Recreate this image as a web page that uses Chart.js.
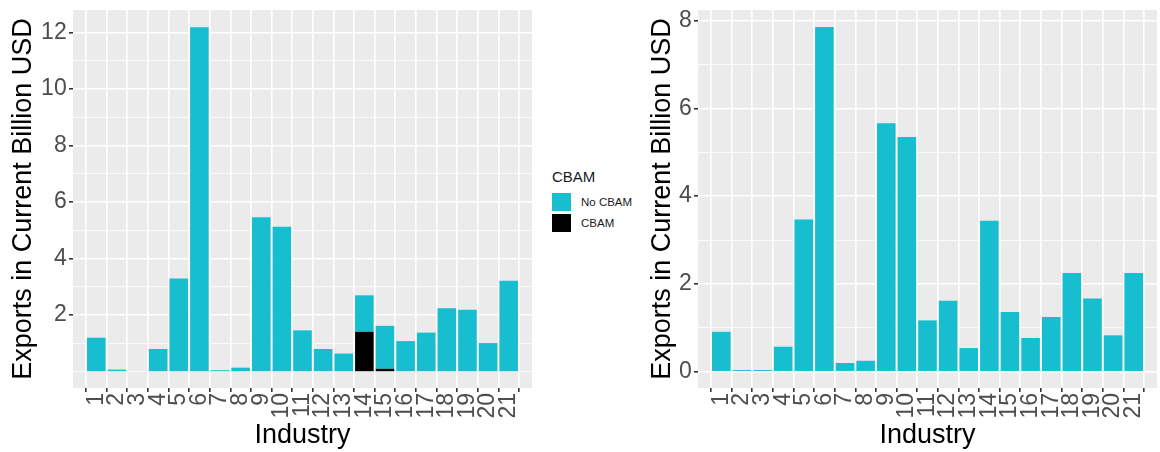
<!DOCTYPE html>
<html>
<head>
<meta charset="utf-8">
<script src="https://cdn.jsdelivr.net/npm/chart.js@4/dist/chart.umd.min.js"></script>
<style>
  html, body { margin: 0; padding: 0; background: #ffffff; }
  #wrap { position: relative; width: 1160px; height: 452px; overflow: hidden; font-family: "Liberation Sans", Arial, sans-serif; }
  #cL { position: absolute; left: 0; top: 0; }
  #cR { position: absolute; left: 640px; top: 0; }
  #legend { position: absolute; left: 552px; top: 167px; color: #1a1a1a; }
  #legend .ttl { font-size: 15px; line-height: 20px; margin-bottom: 5px; }
  #legend .item { display: flex; align-items: center; height: 20px; margin-bottom: 0.5px; }
  #legend .box { width: 19px; height: 18px; margin-right: 10px; }
  #legend .lab { font-size: 11.5px; }
</style>
</head>
<body>
<div id="wrap">
  <canvas id="cL" width="545" height="452"></canvas>
  <canvas id="cR" width="520" height="452"></canvas>
  <div id="legend">
    <div class="ttl">CBAM</div>
    <div class="item"><div class="box" style="background:#17BECF"></div><span class="lab">No CBAM</span></div>
    <div class="item"><div class="box" style="background:#000000"></div><span class="lab">CBAM</span></div>
  </div>
</div>
<script>
// ---- data ----
const industries = ["1","2","3","4","5","6","7","8","9","10","11","12","13","14","15","16","17","18","19","20","21"];
// left panel: exports split by CBAM status
const leftNoCBAM = [1.20, 0.07, 0.00, 0.80, 3.30, 12.19, 0.05, 0.14, 5.46, 5.13, 1.46, 0.80, 0.64, 1.29, 1.52, 1.08, 1.38, 2.24, 2.19, 1.01, 3.22];
const leftCBAM   = [0, 0, 0, 0, 0, 0, 0, 0, 0, 0, 0, 0, 0, 1.41, 0.10, 0, 0, 0, 0, 0, 0];
// right panel
const rightNoCBAM = [0.91, 0.04, 0.04, 0.57, 3.47, 7.85, 0.20, 0.25, 5.66, 5.35, 1.17, 1.62, 0.54, 3.44, 1.36, 0.77, 1.25, 2.25, 1.67, 0.83, 2.25];
// y-axis tick labels
const leftYLabels = [2, 4, 6, 8, 10, 12];
const rightYLabels = [0, 2, 4, 6, 8];

const seriesNames = { no: "No CBAM", yes: "CBAM" };
const colNo = "#17BECF", colYes = "#000000";
const FONT = "'Liberation Sans', Arial, sans-serif";

const panelBg = {
  id: 'panelBg',
  beforeDraw(chart) {
    const a = chart.chartArea, ctx = chart.ctx;
    ctx.save();
    ctx.fillStyle = '#EBEBEB';
    ctx.fillRect(a.left, a.top, a.right - a.left, a.bottom - a.top);
    ctx.restore();
  }
};

function toXY(vals) { return vals.map((v, i) => ({ x: i + 1, y: v })); }

function makeChart(canvasId, datasets, opts) {
  const gridVals = [];
  for (let v = opts.gridFrom; v <= opts.gridTo; v++) gridVals.push(v);
  const isMajor = v => opts.labels.includes(v);
  return new Chart(document.getElementById(canvasId), {
    type: 'bar',
    data: { datasets },
    plugins: [panelBg],
    options: {
      responsive: false,
      animation: false,
      devicePixelRatio: 1,
      layout: { padding: { top: 10, right: opts.padRight, left: 0, bottom: 0 } },
      plugins: { legend: { display: false }, tooltip: { enabled: false } },
      datasets: { bar: { barPercentage: 0.9, categoryPercentage: 1.0 } },
      scales: {
        x: {
          type: 'linear',
          stacked: true,
          min: 0.4, max: 21.6,
          afterBuildTicks: s => { s.ticks = industries.map((c, i) => ({ value: i + 1 })); },
          afterFit: s => { s.height = 64; s.paddingLeft = 0; s.paddingRight = 0; },
          border: { display: false },
          grid: { color: '#FFFFFF', lineWidth: 1.6, tickColor: '#333333', tickLength: 4, drawTicks: true },
          ticks: {
            autoSkip: false, minRotation: 90, maxRotation: 90, padding: 1,
            color: '#4D4D4D', font: { family: FONT, size: 23 },
            callback: v => industries[v - 1]
          },
          title: { display: true, text: 'Industry', color: '#000000', font: { family: FONT, size: 27 }, padding: { top: 0, bottom: 0 } }
        },
        y: {
          stacked: true,
          min: opts.min, max: opts.max,
          afterBuildTicks: s => { s.ticks = gridVals.map(v => ({ value: v })); },
          afterFit: s => { s.width = opts.yWidth; s.paddingTop = 0; s.paddingBottom = 0; },
          border: { display: false },
          grid: {
            color: '#FFFFFF',
            lineWidth: c => (c.tick && isMajor(c.tick.value)) ? 1.6 : 0.8,
            tickColor: c => (c.tick && isMajor(c.tick.value)) ? '#333333' : 'rgba(0,0,0,0)',
            tickLength: 4, drawTicks: true
          },
          ticks: {
            padding: 2.3, color: '#4D4D4D', font: { family: FONT, size: 23 },
            callback: v => isMajor(v) ? String(v) : ''
          },
          title: { display: true, text: 'Exports in Current Billion USD', color: '#000000', font: { family: FONT, size: 27 }, padding: { top: opts.titlePad, bottom: 0 } }
        }
      }
    }
  });
}

makeChart('cL', [
  { label: seriesNames.yes, data: toXY(leftCBAM), backgroundColor: colYes, borderWidth: 0 },
  { label: seriesNames.no, data: toXY(leftNoCBAM), backgroundColor: colNo, borderWidth: 0 }
], { min: -0.58, max: 12.8, gridFrom: 0, gridTo: 12, labels: leftYLabels, yWidth: 73, padRight: 13, titlePad: 7.4 });

makeChart('cR', [
  { label: seriesNames.no, data: toXY(rightNoCBAM), backgroundColor: colNo, borderWidth: 0 }
], { min: -0.37, max: 8.24, gridFrom: 0, gridTo: 8, labels: rightYLabels, yWidth: 58, padRight: 3, titlePad: 6.4 });
</script>
</body>
</html>
